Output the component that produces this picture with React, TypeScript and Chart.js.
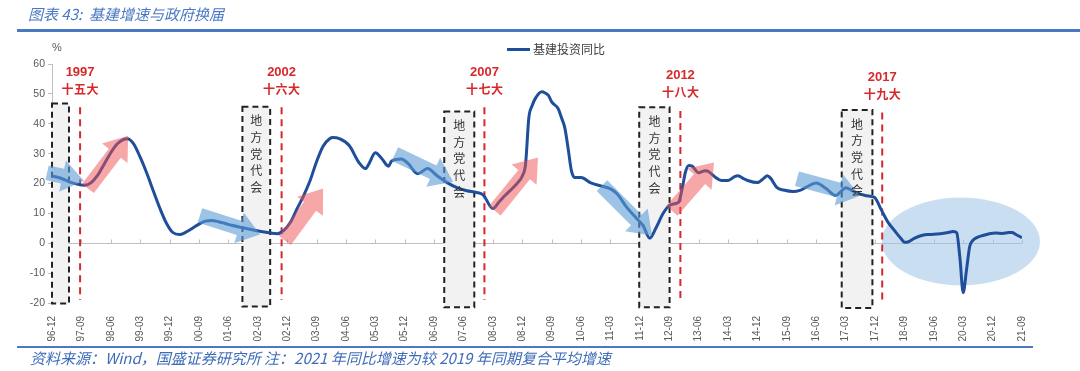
import React, { useEffect, useRef } from "react";
import { Chart, registerables } from "chart.js";
Chart.register(...registerables);

// ---------- data ----------
const dates = [
  "1996-12","1997-02","1997-04","1997-06","1997-08","1997-10","1997-12","1998-02","1998-04","1998-06","1998-08","1998-10","1998-11",
  "1999-01","1999-03","1999-05","1999-07","1999-09","1999-11","2000-01","2000-03","2000-05","2000-07","2000-09","2000-11",
  "2001-01","2001-03","2001-05","2001-07","2001-10","2002-01","2002-04","2002-07","2002-09","2002-11",
  "2003-01","2003-03","2003-05","2003-07","2003-09","2003-11","2004-01","2004-02","2004-04","2004-07","2004-10","2004-12",
  "2005-01","2005-03","2005-05","2005-07","2005-08","2005-11","2006-01","2006-04","2006-07","2006-10",
  "2007-01","2007-04","2007-07","2007-10","2007-12","2008-03","2008-05","2008-07","2008-09","2008-11","2008-12",
  "2009-01","2009-02","2009-03","2009-04","2009-06","2009-07","2009-08","2009-09","2009-11","2009-12",
  "2010-01","2010-02","2010-03","2010-04","2010-06","2010-09","2010-12","2011-03","2011-05","2011-08","2011-11",
  "2012-01","2012-03","2012-05","2012-07","2012-09","2012-11","2012-12","2013-01","2013-02","2013-03","2013-04","2013-06","2013-08","2013-09","2013-11",
  "2014-01","2014-03","2014-05","2014-06","2014-08","2014-09","2014-12","2015-02","2015-03","2015-04","2015-06","2015-08","2015-11",
  "2016-01","2016-03","2016-06","2016-09","2016-12","2017-02","2017-03","2017-05","2017-06","2017-09","2017-11","2017-12",
  "2018-02","2018-04","2018-06","2018-08","2018-09","2018-10","2018-12","2019-02","2019-04","2019-06","2019-08","2019-10","2019-12",
  "2020-01","2020-02","2020-03","2020-04","2020-05","2020-06","2020-07","2020-09","2020-11","2021-01","2021-03","2021-05","2021-06","2021-07","2021-09"
];
const growth = [
  22.5,22.0,21.2,20.3,19.7,19.4,20.3,22.8,26.5,30.3,33.3,34.8,35.0,
  33.3,28.8,23.5,17.6,11.8,6.8,3.6,2.9,3.7,5.0,6.4,7.4,
  7.6,7.2,6.6,6.0,5.3,4.6,3.9,3.4,3.2,4.3,
  7.0,11.5,15.8,20.9,27.3,32.5,35.0,35.4,35.0,32.7,27.0,25.0,
  26.5,30.3,28.3,25.8,27.5,28.2,26.7,23.3,25.0,22.5,
  20.3,18.6,17.6,17.0,16.2,11.6,14.0,16.3,18.4,20.8,22.5,
  26.5,42.0,46.0,48.5,50.7,50.3,49.5,47.3,45.0,42.0,
  38.7,32.0,24.5,22.0,22.0,20.2,19.2,18.2,16.6,12.0,8.3,
  5.9,1.7,5.3,9.8,12.6,13.3,14.0,18.6,24.0,26.0,25.8,23.6,24.3,24.0,22.2,
  21.0,21.0,22.3,22.6,21.5,21.0,20.3,21.8,22.6,21.8,18.6,17.8,17.3,
  17.7,18.8,20.2,18.3,16.0,17.8,18.6,17.6,17.0,16.0,15.6,15.2,
  11.0,7.0,4.2,1.5,0.3,0.4,1.6,2.5,2.9,3.0,3.2,3.5,3.9,
  3.5,-5.0,-16.5,-9.0,-1.0,1.0,1.8,2.6,3.2,3.4,3.3,3.6,3.6,3.0,1.9
];
const tickLabels = [
  "96-12","97-09","98-06","99-03","99-12","00-09","01-06","02-03","02-12","03-09","04-06","05-03",
  "05-12","06-09","07-06","08-03","08-12","09-09","10-06","11-03","11-12","12-09","13-06","14-03",
  "14-12","15-09","16-06","17-03","17-12","18-09","19-06","20-03","20-12","21-09"
];
const seriesName = "基建投资同比";

// annotations in data units (months since 1996-12, percent)
const congressYears = ["1997", "2002", "2007", "2012", "2017"];
const congressNames = ["十五大", "十六大", "十七大", "十八大", "十九大"];
const congressAt = [8.6, 70.3, 132.4, 192.4, 254.2];
const congressTop = [45.5, 45.5, 45.5, 44.3, 43.8];
const congressBottom = -19;
const boxFrom = [0, 58.3, 120.1, 179.8, 241.8];
const boxTo = [5.2, 66.8, 129.3, 189.1, 251.2];
const boxTop = [46.8, 45.7, 44.1, 45.5, 44.6];
const boxBottom = [-20.2, -21.2, -21.4, -21.4, -21.7];
const boxTexts = ["", "地方党代会", "地方党代会", "地方党代会", "地方党代会"];
const blueArrows = [
  [-1.5, 23.6, 9.8, 20.9],
  [45.3, 9.3, 63.7, 2.9],
  [105, 29.9, 122.8, 20.6],
  [168.4, 19.3, 183.7, 2.6],
  [228.1, 21.6, 247.4, 15.9],
];
const pinkArrows = [
  [11, 18.3, 23.3, 36.0],
  [71.3, 0.9, 83, 18.3],
  [135.6, 10.9, 148.8, 28.7],
  [189.8, 10.9, 202.7, 27.0],
];
const ellipse = { m: 278.3, v: 0.6, rm: 24.2, rv: 14.7 };

const monthIndex = (d: string) => {
  const [y, m] = d.split("-").map(Number);
  return (y - 1996) * 12 + (m - 12);
};

const LINE_COLOR = "#1f4e9a";
const RED = "#d8282b";

function drawArrow(ctx: CanvasRenderingContext2D, x0: number, y0: number, x1: number, y1: number, color: string) {
  const shaft = 15, head = 32, headLen = 22;
  const dx = x1 - x0, dy = y1 - y0;
  const len = Math.hypot(dx, dy);
  const ux = dx / len, uy = dy / len;
  const nx = -uy, ny = ux;
  const bx = x1 - ux * headLen, by = y1 - uy * headLen;
  ctx.beginPath();
  ctx.moveTo(x0 + nx * shaft / 2, y0 + ny * shaft / 2);
  ctx.lineTo(bx + nx * shaft / 2, by + ny * shaft / 2);
  ctx.lineTo(bx + nx * head / 2, by + ny * head / 2);
  ctx.lineTo(x1, y1);
  ctx.lineTo(bx - nx * head / 2, by - ny * head / 2);
  ctx.lineTo(bx - nx * shaft / 2, by - ny * shaft / 2);
  ctx.lineTo(x0 - nx * shaft / 2, y0 - ny * shaft / 2);
  ctx.closePath();
  ctx.fillStyle = color;
  ctx.fill();
}

const annotationPlugin = {
  id: "govAnnotations",
  beforeDatasetsDraw(chart: any) {
    const { ctx, chartArea, scales } = chart;
    const x = scales.x, y = scales.y;
    ctx.save();
    // zero axis line with tick marks
    const y0 = Math.round(y.getPixelForValue(0)) + 0.5;
    ctx.strokeStyle = "#bfbfbf";
    ctx.lineWidth = 1;
    ctx.beginPath();
    ctx.moveTo(chartArea.left, y0);
    ctx.lineTo(chartArea.right, y0);
    for (let i = 0; i < tickLabels.length; i++) {
      const px = Math.round(x.getPixelForValue(i * 9)) + 0.5;
      ctx.moveTo(px, y0 - 4);
      ctx.lineTo(px, y0);
    }
    ctx.stroke();

    // ellipse
    const ex = x.getPixelForValue(ellipse.m), ey = y.getPixelForValue(ellipse.v);
    const erx = x.getPixelForValue(ellipse.m + ellipse.rm) - ex;
    const ery = ey - y.getPixelForValue(ellipse.v + ellipse.rv);
    ctx.beginPath();
    ctx.ellipse(ex, ey, erx, ery, 0, 0, Math.PI * 2);
    ctx.fillStyle = "rgba(157,195,230,0.55)";
    ctx.fill();

    // dashed boxes
    for (let i = 0; i < boxFrom.length; i++) {
      const l = x.getPixelForValue(boxFrom[i]);
      const r = x.getPixelForValue(boxTo[i]);
      const t = y.getPixelForValue(boxTop[i]);
      const b = y.getPixelForValue(boxBottom[i]);
      ctx.fillStyle = "#f2f2f2";
      ctx.fillRect(l, t, r - l, b - t);
      ctx.setLineDash([6, 4]);
      ctx.strokeStyle = "#222222";
      ctx.lineWidth = 2;
      ctx.strokeRect(l, t, r - l, b - t);
    }

    // red congress lines and labels
    for (let i = 0; i < congressAt.length; i++) {
      const px = x.getPixelForValue(congressAt[i]);
      const t = y.getPixelForValue(congressTop[i]);
      const b = y.getPixelForValue(congressBottom);
      ctx.setLineDash([7, 5]);
      ctx.strokeStyle = RED;
      ctx.lineWidth = 2;
      ctx.beginPath();
      ctx.moveTo(px, t);
      ctx.lineTo(px, b);
      ctx.stroke();
      ctx.setLineDash([]);
      ctx.fillStyle = RED;
      ctx.textAlign = "center";
      ctx.textBaseline = "middle";
      ctx.font = "bold 13px 'Liberation Sans', Arial, sans-serif";
      ctx.fillText(congressYears[i], px, t - 35);
      ctx.font = "bold 12px 'Noto Sans CJK SC', sans-serif";
      const chars = congressNames[i].split("");
      const step = 12.5;
      chars.forEach((ch, k) => {
        ctx.fillText(ch, px + (k - (chars.length - 1) / 2) * step, t - 18);
      });
    }
    ctx.restore();
  },
  afterDatasetsDraw(chart: any) {
    const { ctx, scales } = chart;
    const x = scales.x, y = scales.y;
    ctx.save();
    blueArrows.forEach((a) => {
      drawArrow(ctx, x.getPixelForValue(a[0]), y.getPixelForValue(a[1]), x.getPixelForValue(a[2]), y.getPixelForValue(a[3]), "rgba(91,155,213,0.6)");
    });
    pinkArrows.forEach((a) => {
      drawArrow(ctx, x.getPixelForValue(a[0]), y.getPixelForValue(a[1]), x.getPixelForValue(a[2]), y.getPixelForValue(a[3]), "rgba(240,80,80,0.5)");
    });
    // box texts
    ctx.fillStyle = "#333333";
    ctx.font = "12px 'Noto Sans CJK SC', sans-serif";
    ctx.textAlign = "center";
    ctx.textBaseline = "middle";
    for (let i = 0; i < boxTexts.length; i++) {
      const cx = (x.getPixelForValue(boxFrom[i]) + x.getPixelForValue(boxTo[i])) / 2;
      const t = y.getPixelForValue(boxTop[i]);
      boxTexts[i].split("").forEach((ch, k) => {
        ctx.fillText(ch, cx, t + 14 + k * 16.7);
      });
    }
    ctx.restore();
  },
};

export default function App() {
  const ref = useRef<HTMLCanvasElement>(null);
  useEffect(() => {
    const points = dates.map((d, i) => ({ x: monthIndex(d), y: growth[i] }));
    const chart = new Chart(ref.current as HTMLCanvasElement, {
      type: "line",
      data: {
        datasets: [
          {
            label: seriesName,
            data: points,
            borderColor: LINE_COLOR,
            borderWidth: 3,
            pointRadius: 0,
            cubicInterpolationMode: "monotone",
            fill: false,
          },
        ],
      },
      options: {
        responsive: false,
        maintainAspectRatio: false,
        animation: false,
        layout: { padding: { left: 0, top: 64, right: 58, bottom: 0 } },
        plugins: { legend: { display: false }, tooltip: { enabled: false }, title: { display: false } },
        scales: {
          x: {
            type: "linear",
            min: 0,
            max: 297,
            grid: { display: false },
            border: { display: false },
            afterFit: (s: any) => { s.height = 68; },
            ticks: {
              stepSize: 9,
              autoSkip: false,
              minRotation: 90,
              maxRotation: 90,
              padding: 5,
              color: "#595959",
              font: { size: 10, family: "'Liberation Sans', Arial, sans-serif" },
              callback: (v: any) => {
                const i = Math.round(Number(v) / 9);
                return Math.abs(Number(v) - i * 9) < 1e-6 ? tickLabels[i] ?? "" : "";
              },
            },
          },
          y: {
            min: -20,
            max: 60,
            afterFit: (s: any) => { s.width = 52; },
            grid: { drawOnChartArea: false, drawTicks: true, tickLength: 4, tickColor: "#bfbfbf" },
            border: { display: true, color: "#bfbfbf", width: 1 },
            ticks: {
              stepSize: 10,
              padding: 3,
              color: "#595959",
              font: { size: 10.5, family: "'Liberation Sans', Arial, sans-serif" },
            },
          },
        },
      },
      plugins: [annotationPlugin],
    } as any);
    return () => chart.destroy();
  }, []);

  const blueText = "#3d6cb8";
  return (
    <div style={{ position: "fixed", left: 0, top: 0, width: 1080, height: 371, background: "#fff", overflow: "hidden" }}>
      <canvas ref={ref} width={1080} height={371} style={{ position: "absolute", left: 0, top: 0, width: 1080, height: 371 }} />
      <div style={{ position: "absolute", left: 28, top: 4, fontFamily: "'Noto Sans CJK SC', sans-serif", fontStyle: "italic", fontSize: 15, color: "#4a78c4", whiteSpace: "pre", lineHeight: "20px" }}>
        {"图表 43:  基建增速与政府换届"}
      </div>
      <div style={{ position: "absolute", left: 17, top: 29, width: 1063, height: 3, background: "#4a78c2" }} />
      <div style={{ position: "absolute", left: 52, top: 40, fontFamily: "'Liberation Sans', Arial, sans-serif", fontSize: 11, color: "#595959", lineHeight: "14px" }}>%</div>
      <div style={{ position: "absolute", left: 507, top: 41, display: "flex", alignItems: "center", height: 16 }}>
        <span style={{ display: "inline-block", width: 23, height: 3, background: LINE_COLOR }} />
        <span style={{ marginLeft: 3, fontFamily: "'Noto Sans CJK SC', sans-serif", fontSize: 12, color: "#404040", lineHeight: "16px" }}>{seriesName}</span>
      </div>
      <div style={{ position: "absolute", left: 17, top: 346, width: 1016, height: 2, background: "#4a78c2" }} />
      <div style={{ position: "absolute", left: 30, top: 348, fontFamily: "'Noto Sans CJK SC', sans-serif", fontStyle: "italic", fontSize: 15, color: blueText, whiteSpace: "pre", lineHeight: "19px" }}>
        {"资料来源：Wind，国盛证券研究所 注：2021 年同比增速为较 2019 年同期复合平均增速"}
      </div>
    </div>
  );
}
